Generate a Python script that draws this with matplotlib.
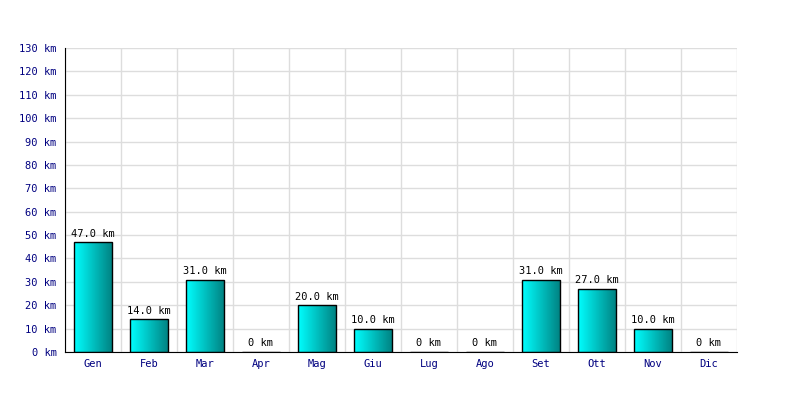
import numpy as np
import matplotlib.pyplot as plt
from matplotlib.colors import LinearSegmentedColormap

# data
mesi = ["Gen", "Feb", "Mar", "Apr", "Mag", "Giu", "Lug", "Ago", "Set", "Ott", "Nov", "Dic"]
km = [47.0, 14.0, 31.0, 0, 20.0, 10.0, 0, 0, 31.0, 27.0, 10.0, 0]
yticks = list(range(0, 131, 10))

plt.rcParams['font.family'] = ['DejaVu Sans Mono']

fig = plt.figure(figsize=(8, 4), dpi=100)
ax = fig.add_axes([0.08125, 0.12, 0.84, 0.76])

x = np.arange(len(mesi))
w = 0.68
cmap = LinearSegmentedColormap.from_list("cy", ["#00ffff", "#008080"])
grad = np.linspace(0, 1, 256).reshape(1, -1)

bars = ax.bar(x, km, width=w, color="none", edgecolor="black", linewidth=1, zorder=3)
for b, v in zip(bars, km):
    if v > 0:
        im = ax.imshow(grad, cmap=cmap, aspect="auto", zorder=2,
                       extent=[b.get_x(), b.get_x() + b.get_width(), 0, v])
        im.set_clip_path(b)
    lab = "0 km" if v == 0 else "%.1f km" % v
    ax.text(b.get_x() + b.get_width() / 2, v + 1.5, lab, ha="center", va="bottom",
            fontsize=7.5, color="black")

ax.set_xlim(-0.5, len(mesi) - 0.5)
ax.set_ylim(0, 130)
ax.set_xticks(x)
ax.set_xticklabels(mesi, color="#000080", fontsize=7.5)
ax.set_yticks(yticks)
ax.set_yticklabels(["%d km" % t for t in yticks], color="#000080", fontsize=7.5)
ax.set_xticks(np.arange(-0.5, len(mesi)), minor=True)
ax.tick_params(which="both", length=0)
ax.tick_params(axis="y", pad=6)
ax.tick_params(axis="x", pad=5)
ax.grid(axis="y", color="#dddddd", linewidth=1, zorder=0)
ax.grid(axis="x", which="minor", color="#dddddd", linewidth=1, zorder=0)
ax.set_axisbelow(True)
ax.spines["top"].set_visible(False)
ax.spines["right"].set_visible(False)

plt.savefig("out.png", dpi=100)
